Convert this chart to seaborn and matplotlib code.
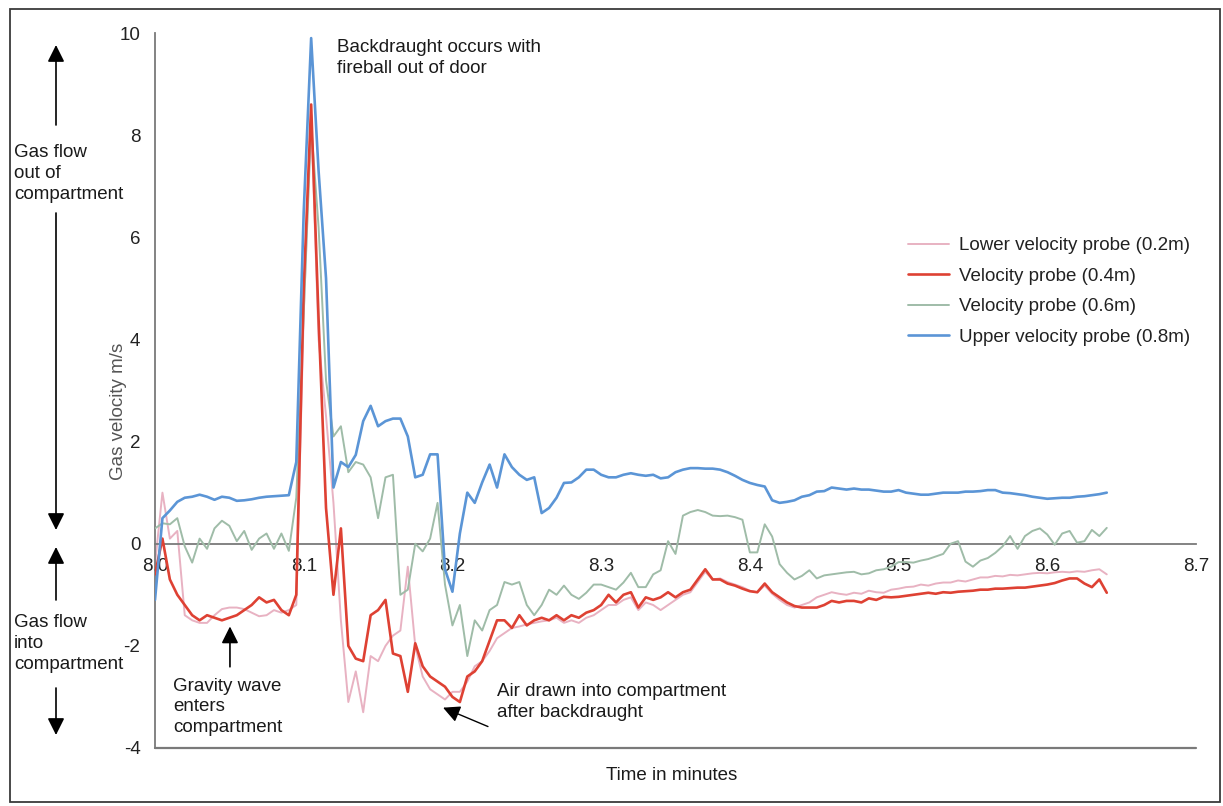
import numpy as np
import pandas as pd
import matplotlib.pyplot as plt
import seaborn as sns
from matplotlib.patches import Rectangle

# Probe readings sampled every 0.005 min from 8.000 to 8.640
time_min = np.round(8.0 + 0.005 * np.arange(129), 3)

lower_02 = [
    -0.4, 1.0, 0.1, 0.25, -1.4, -1.5, -1.55, -1.55, -1.4, -1.28,
    -1.25, -1.25, -1.28, -1.35, -1.42, -1.4, -1.3, -1.35, -1.3, -1.2,
    4.5, 8.4, 4.0, 2.5, 0.8, -1.5, -3.1, -2.5, -3.3, -2.2,
    -2.3, -2.0, -1.8, -1.7, -0.45, -2.0, -2.6, -2.85, -2.95, -3.05,
    -2.9, -2.9, -2.7, -2.4, -2.3, -2.1, -1.85, -1.75, -1.65, -1.62,
    -1.58, -1.55, -1.52, -1.5, -1.45, -1.55, -1.5, -1.55, -1.45, -1.4,
    -1.3, -1.2, -1.2, -1.1, -1.05, -1.3, -1.15, -1.2, -1.3, -1.2,
    -1.1, -1.0, -0.95, -0.75, -0.55, -0.7, -0.68, -0.75, -0.8, -0.85,
    -0.92, -0.95, -0.82, -0.98, -1.1, -1.2, -1.25, -1.2, -1.15, -1.05,
    -1.0, -0.95, -0.98, -1.0, -0.96, -0.98, -0.92, -0.95, -0.96, -0.9,
    -0.88, -0.85, -0.84, -0.8, -0.82, -0.78, -0.76, -0.76, -0.72, -0.74,
    -0.7, -0.66, -0.66, -0.63, -0.64, -0.61, -0.62, -0.6, -0.58, -0.57,
    -0.58, -0.56, -0.55, -0.56, -0.54, -0.55, -0.52, -0.5, -0.6,
]

probe_04 = [
    -0.6, 0.1, -0.7, -1.0, -1.2, -1.4, -1.5, -1.4, -1.45, -1.5,
    -1.45, -1.4, -1.3, -1.2, -1.05, -1.15, -1.1, -1.3, -1.4, -1.0,
    5.0, 8.6, 4.4, 0.7, -1.0, 0.3, -2.0, -2.25, -2.3, -1.4,
    -1.3, -1.1, -2.15, -2.2, -2.9, -1.95, -2.4, -2.6, -2.7, -2.8,
    -3.0, -3.1, -2.6, -2.5, -2.3, -1.9, -1.5, -1.5, -1.65, -1.4,
    -1.6, -1.5, -1.45, -1.5, -1.4, -1.5, -1.4, -1.45, -1.35, -1.3,
    -1.2, -1.0, -1.15, -1.0, -0.95, -1.25, -1.05, -1.1, -1.05, -0.95,
    -1.05, -0.95, -0.9, -0.7, -0.5, -0.7, -0.7, -0.78, -0.82, -0.88,
    -0.93, -0.95, -0.78, -0.95, -1.05, -1.15, -1.22, -1.25, -1.25, -1.25,
    -1.2, -1.12, -1.15, -1.12, -1.12, -1.15, -1.07, -1.1, -1.04, -1.05,
    -1.04, -1.02, -1.0, -0.98, -0.96, -0.98, -0.95, -0.96, -0.94, -0.93,
    -0.92, -0.9, -0.9, -0.88, -0.88, -0.87, -0.86, -0.86, -0.84, -0.82,
    -0.8, -0.77, -0.72, -0.68, -0.68, -0.78, -0.85, -0.7, -0.96,
]

probe_06 = [
    0.3, 0.4, 0.38, 0.5, -0.05, -0.37, 0.1, -0.1, 0.3, 0.45,
    0.35, 0.05, 0.25, -0.12, 0.1, 0.2, -0.1, 0.2, -0.14, 0.9,
    4.5, 8.2, 6.2, 3.2, 2.1, 2.3, 1.4, 1.6, 1.55, 1.3,
    0.5, 1.3, 1.35, -1.0, -0.9, 0.0, -0.15, 0.1, 0.8, -0.8,
    -1.6, -1.2, -2.2, -1.5, -1.7, -1.3, -1.2, -0.75, -0.8, -0.75,
    -1.2, -1.4, -1.2, -0.9, -1.0, -0.82, -1.0, -1.08, -0.96, -0.8,
    -0.8, -0.85, -0.9, -0.76, -0.57, -0.85, -0.85, -0.6, -0.52, 0.05,
    -0.2, 0.55, 0.62, 0.66, 0.62, 0.55, 0.54, 0.55, 0.52, 0.47,
    -0.17, -0.17, 0.38, 0.14, -0.4, -0.57, -0.7, -0.63, -0.52, -0.68,
    -0.62, -0.6, -0.58, -0.56, -0.55, -0.6, -0.58, -0.52, -0.5, -0.45,
    -0.36, -0.36, -0.37, -0.33, -0.3, -0.25, -0.2, 0.0, 0.05, -0.35,
    -0.45, -0.33, -0.28, -0.18, -0.05, 0.15, -0.1, 0.15, 0.25, 0.3,
    0.18, -0.02, 0.2, 0.25, 0.02, 0.05, 0.27, 0.15, 0.31,
]

upper_08 = [
    -1.1, 0.5, 0.65, 0.82, 0.9, 0.92, 0.96, 0.92, 0.86, 0.92,
    0.9, 0.84, 0.85, 0.87, 0.9, 0.92, 0.93, 0.94, 0.95, 1.6,
    6.5, 9.9, 7.3, 5.2, 1.1, 1.6, 1.5, 1.74, 2.4, 2.7,
    2.3, 2.4, 2.45, 2.45, 2.1, 1.3, 1.35, 1.75, 1.75, -0.5,
    -0.94, 0.2, 1.0, 0.8, 1.2, 1.55, 1.1, 1.75, 1.5, 1.35,
    1.25, 1.3, 0.6, 0.7, 0.9, 1.19, 1.2, 1.3, 1.45, 1.45,
    1.35, 1.3, 1.3, 1.35, 1.38, 1.35, 1.33, 1.35, 1.28, 1.3,
    1.4, 1.45, 1.48, 1.48, 1.47, 1.47, 1.45, 1.4, 1.33, 1.25,
    1.19, 1.15, 1.12, 0.85, 0.8, 0.82, 0.85, 0.92, 0.95, 1.02,
    1.03, 1.1, 1.08, 1.06, 1.08, 1.06, 1.06, 1.04, 1.02, 1.02,
    1.05, 1.0, 0.98, 0.96, 0.96, 0.98, 1.0, 1.0, 1.0, 1.02,
    1.02, 1.03, 1.05, 1.05, 1.0, 0.99, 0.97, 0.95, 0.92, 0.9,
    0.88, 0.89, 0.9, 0.9, 0.92, 0.93, 0.95, 0.97, 1.0,
]

probe_labels = [
    'Lower velocity probe (0.2m)',
    'Velocity probe (0.4m)',
    'Velocity probe (0.6m)',
    'Upper velocity probe (0.8m)',
]
probe_colors = ['#e8b2c2', '#de4133', '#9fbca8', '#5b95d6']
x_ticks = [8.0, 8.1, 8.2, 8.3, 8.4, 8.5, 8.6, 8.7]
y_ticks = [-4, -2, 0, 2, 4, 6, 8, 10]

df = pd.DataFrame({
    'time': np.tile(time_min, 4),
    'velocity': lower_02 + probe_04 + probe_06 + upper_08,
    'probe': np.repeat(probe_labels, len(time_min)),
})

# --- Visualization ---
sns.set_style('white')
plt.rcParams['font.family'] = ['Liberation Sans', 'DejaVu Sans']
plt.rcParams['axes.unicode_minus'] = False

W, H = 1223, 806


def fp(x, y):
    # figure pixel (from top-left) -> figure fraction
    return (x / W, 1 - y / H)


fig = plt.figure(figsize=(W / 100, H / 100), dpi=100)
ax = fig.add_axes([155 / W, 1 - 748 / H, (1196 - 155) / W, (748 - 33) / H])

widths = [1.4, 1.9, 1.4, 1.9]
zorders = [2, 4, 3, 5]
for lab, col, lw, zo in zip(probe_labels, probe_colors, widths, zorders):
    sns.lineplot(data=df[df['probe'] == lab], x='time', y='velocity',
                 color=col, linewidth=lw, label=lab, ax=ax, zorder=zo,
                 estimator=None, sort=False)

ax.set_xlim(8.0, 8.7)
ax.set_ylim(-4, 10)
ax.set_xticks(x_ticks)
ax.set_xticklabels([f'{t:.1f}' for t in x_ticks])
ax.set_yticks(y_ticks)
ax.set_yticklabels([str(v) for v in y_ticks])

axis_col = '#7a7a7a'
for s in ['top', 'right']:
    ax.spines[s].set_visible(False)
ax.spines['left'].set_color(axis_col)
ax.spines['left'].set_linewidth(1.3)
ax.spines['bottom'].set_position(('data', 0))
ax.spines['bottom'].set_color(axis_col)
ax.spines['bottom'].set_linewidth(1.3)
ax.axhline(-4, color=axis_col, lw=1.6, clip_on=False, zorder=1)

ax.tick_params(axis='x', direction='inout', length=10, width=1.2, color='#333333',
               pad=5, labelsize=13.5, labelcolor='#222222')
ax.tick_params(axis='y', direction='inout', length=11, width=1.0, color='#555555',
               pad=5, labelsize=13.5, labelcolor='#222222')

ax.set_xlabel('')
ax.set_ylabel('Gas velocity m/s', fontsize=13.5, color='#555555')
ax.yaxis.set_label_coords((127 - 155) / 1041, (2.6 + 4) / 14)

leg = ax.legend(loc='upper left', bbox_to_anchor=fp(908, 237), bbox_transform=fig.transFigure,
                frameon=False, fontsize=13.5, handlelength=2.2, handletextpad=0.5,
                labelspacing=0.72, borderpad=0, borderaxespad=0)
for t in leg.get_texts():
    t.set_color('#222222')

txt = dict(fontsize=13.5, color='#1a1a1a', linespacing=1.3)
arrow = dict(arrowstyle='-|>,head_length=0.6,head_width=0.3', color='black', lw=1.2,
             mutation_scale=17, shrinkA=0, shrinkB=0)

# side notes on flow direction
fig.text(*fp(14, 144), 'Gas flow\nout of\ncompartment', va='top', ha='left', **txt)
fig.text(*fp(14, 614), 'Gas flow\ninto\ncompartment', va='top', ha='left', **txt)
for tail, tip in [((56, 125), (56, 45)), ((56, 213), (56, 530)),
                  ((56, 600), (56, 547)), ((56, 688), (56, 735))]:
    ax.annotate('', xy=fp(*tip), xytext=fp(*tail), xycoords='figure fraction',
                textcoords='figure fraction', arrowprops=arrow, annotation_clip=False)

# event notes
ax.text(8.1224, 9.88, 'Backdraught occurs with\nfireball out of door', va='top', ha='left', **txt)
ax.text(8.012, -2.62, 'Gravity wave\nenters\ncompartment', va='top', ha='left', **txt)
ax.annotate('', xy=(8.0504, -1.62), xytext=(8.0504, -2.41), arrowprops=arrow)
ax.text(8.230, -2.72, 'Air drawn into compartment\nafter backdraught', va='top', ha='left', **txt)
ax.annotate('', xy=(8.1937, -3.21), xytext=(8.2239, -3.58),
            arrowprops=dict(arrow, lw=1.0))

fig.text(*fp(672, 775), 'Time in minutes', ha='center', va='center', fontsize=13.5, color='#1a1a1a')

fig.add_artist(Rectangle(fp(10, 802), (1220 - 10) / W, (802 - 9) / H, transform=fig.transFigure,
                         fill=False, lw=1.3, ec='#3a3a3a'))

fig.savefig('out.png', dpi=100)
